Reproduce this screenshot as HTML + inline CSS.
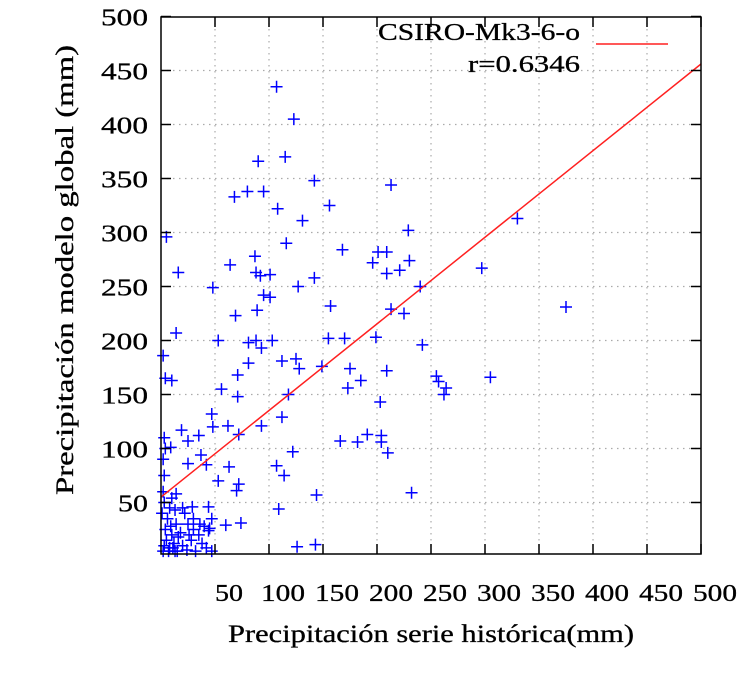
<!DOCTYPE html>
<html><head><meta charset="utf-8"><style>
body{margin:0;background:#fff;}
svg{display:block;font-family:"Liberation Serif",serif;}
.t{stroke:#000;stroke-width:0.3;}
</style></head><body>
<svg id="chart" width="744" height="674" viewBox="0 0 744 674" xmlns="http://www.w3.org/2000/svg">
<g id="grid"></g>
<g id="pts"></g>
<line id="reg" stroke="#ff2020" stroke-width="1.5"/>
<rect x="161" y="17" width="540" height="537" fill="none" stroke="#000" stroke-width="1.5"/>
<g id="ticks"></g>
<text class="t" x="378" y="40" font-size="24" textLength="202" lengthAdjust="spacingAndGlyphs">CSIRO-Mk3-6-o</text>
<text class="t" x="468" y="72" font-size="24" textLength="112" lengthAdjust="spacingAndGlyphs">r=0.6346</text>
<line x1="596" y1="44" x2="668" y2="44" stroke="#ff2020" stroke-width="1.5"/>
<text class="t" x="228" y="642" font-size="25" textLength="406" lengthAdjust="spacingAndGlyphs">Precipitación serie histórica(mm)</text>
<text class="t" transform="translate(73,495) rotate(-90)" font-size="25" textLength="450" lengthAdjust="spacingAndGlyphs">Precipitación modelo global (mm)</text>
</svg>
<script>
const xTicks=[50,100,150,200,250,300,350,400,450,500];
const yTicks=[50,100,150,200,250,300,350,400,450,500];
const regIntercept=55;
const regSlope=0.802;
const ptsX=[107,123,90,115,68,80,95,108,131,142,213,156,5,116,87,201,209,229,330,168,64,88,92,101,142,196,209,221,230,297,16,48,95,101,127,240,157,213,69,89,225,375,14,53,88,103,155,170,199,242,81,93,2,4,10,112,125,128,149,71,81,173,175,185,209,56,71,118,255,257,305,264,262,203,47,48,19,35,62,72,93,112,166,182,191,204,204,210,25,9,37,42,63,107,122,114,70,72,53,25,144,232,109,14,10,13,29,44,47,60,74,126,143,2,3,5,8,10,4,12,15,6,18,20,25,22,28,30,32,35,38,40,42,45,47,14,8,3,2,3,2,4,3,16,11,24,26,36,44,9,7,1,20,30,13];
const ptsY=[435,405,366,370,333,338,338,322,311,348,344,325,296,290,278,282,282,302,313,284,270,263,260,261,258,272,262,265,274,267,263,249,242,240,250,250,232,229,223,228,225,231,207,200,200,200,202,202,203,196,198,193,186,165,163,181,183,174,176,168,179,156,174,163,172,155,148,150,167,162,166,156,150,143,132,120,117,112,121,113,121,129,107,106,113,112,106,96,107,101,94,85,83,84,97,75,61,67,70,86,57,59,44,58,54,43,46,46,35,29,31,9,11,5,10,15,8,20,25,12,5,35,22,10,30,40,15,25,5,20,12,28,8,26,5,30,45,50,60,75,90,100,110,18,8,6,20,30,24,28,3,40,45,35,3];
const X0=161,XS=1.08,YB=556.5,YS=1.08,YMIN=3;
const sx=v=>X0+v*XS, sy=v=>YB-v*YS;
const NS="http://www.w3.org/2000/svg";
function mk(tag,attrs,parent){const e=document.createElementNS(NS,tag);for(const k in attrs)e.setAttribute(k,attrs[k]);parent.appendChild(e);return e;}
const grid=document.getElementById('grid'),ticks=document.getElementById('ticks'),pts=document.getElementById('pts');
xTicks.forEach(t=>{const x=sx(t);
 if(t<500){const g=mk('line',{x1:x,y1:17,x2:x,y2:554,stroke:'#aaa','stroke-width':1.2,'stroke-dasharray':'1.5 4.5'},grid);
 }
 const a=mk('line',{x1:x,y1:554,x2:x,y2:544,stroke:'#000','stroke-width':1.5},ticks);
 
 const b=mk('line',{x1:x,y1:17,x2:x,y2:27,stroke:'#000','stroke-width':1.5},ticks);
 
 const w=String(t).length===2?28:44;
 const l=mk('text',{class:'t',x:x+14-w/2,y:601,'font-size':24,textLength:w,lengthAdjust:'spacingAndGlyphs'},ticks);l.textContent=t;
 
});
yTicks.forEach(t=>{const y=sy(t);
 if(t<500){const g=mk('line',{x1:161,y1:y,x2:701,y2:y,stroke:'#aaa','stroke-width':1.2,'stroke-dasharray':'1.5 4.5'},grid);
 }
 const a=mk('line',{x1:161,y1:y,x2:171,y2:y,stroke:'#000','stroke-width':1.5},ticks);
 
 const b=mk('line',{x1:701,y1:y,x2:691,y2:y,stroke:'#000','stroke-width':1.5},ticks);
 
 const w=String(t).length===2?30:47;
 const l=mk('text',{class:'t',x:148-w,y:y+9,'font-size':24,textLength:w,lengthAdjust:'spacingAndGlyphs'},ticks);l.textContent=t;
 
});
ptsX.forEach((v,i)=>{const x=sx(v),y=sy(Math.max(ptsY[i],YMIN+2));
 const p=mk('path',{d:`M${x-6},${y}H${x+6}M${x},${y-6}V${y+6}`,stroke:'#0000ff','stroke-width':1.5,fill:'none'},pts);
 
});
const reg=document.getElementById('reg');
reg.setAttribute('x1',sx(0));reg.setAttribute('y1',sy(regIntercept));
reg.setAttribute('x2',sx(500));reg.setAttribute('y2',sy(regIntercept+regSlope*500));
</script>
</body></html>
